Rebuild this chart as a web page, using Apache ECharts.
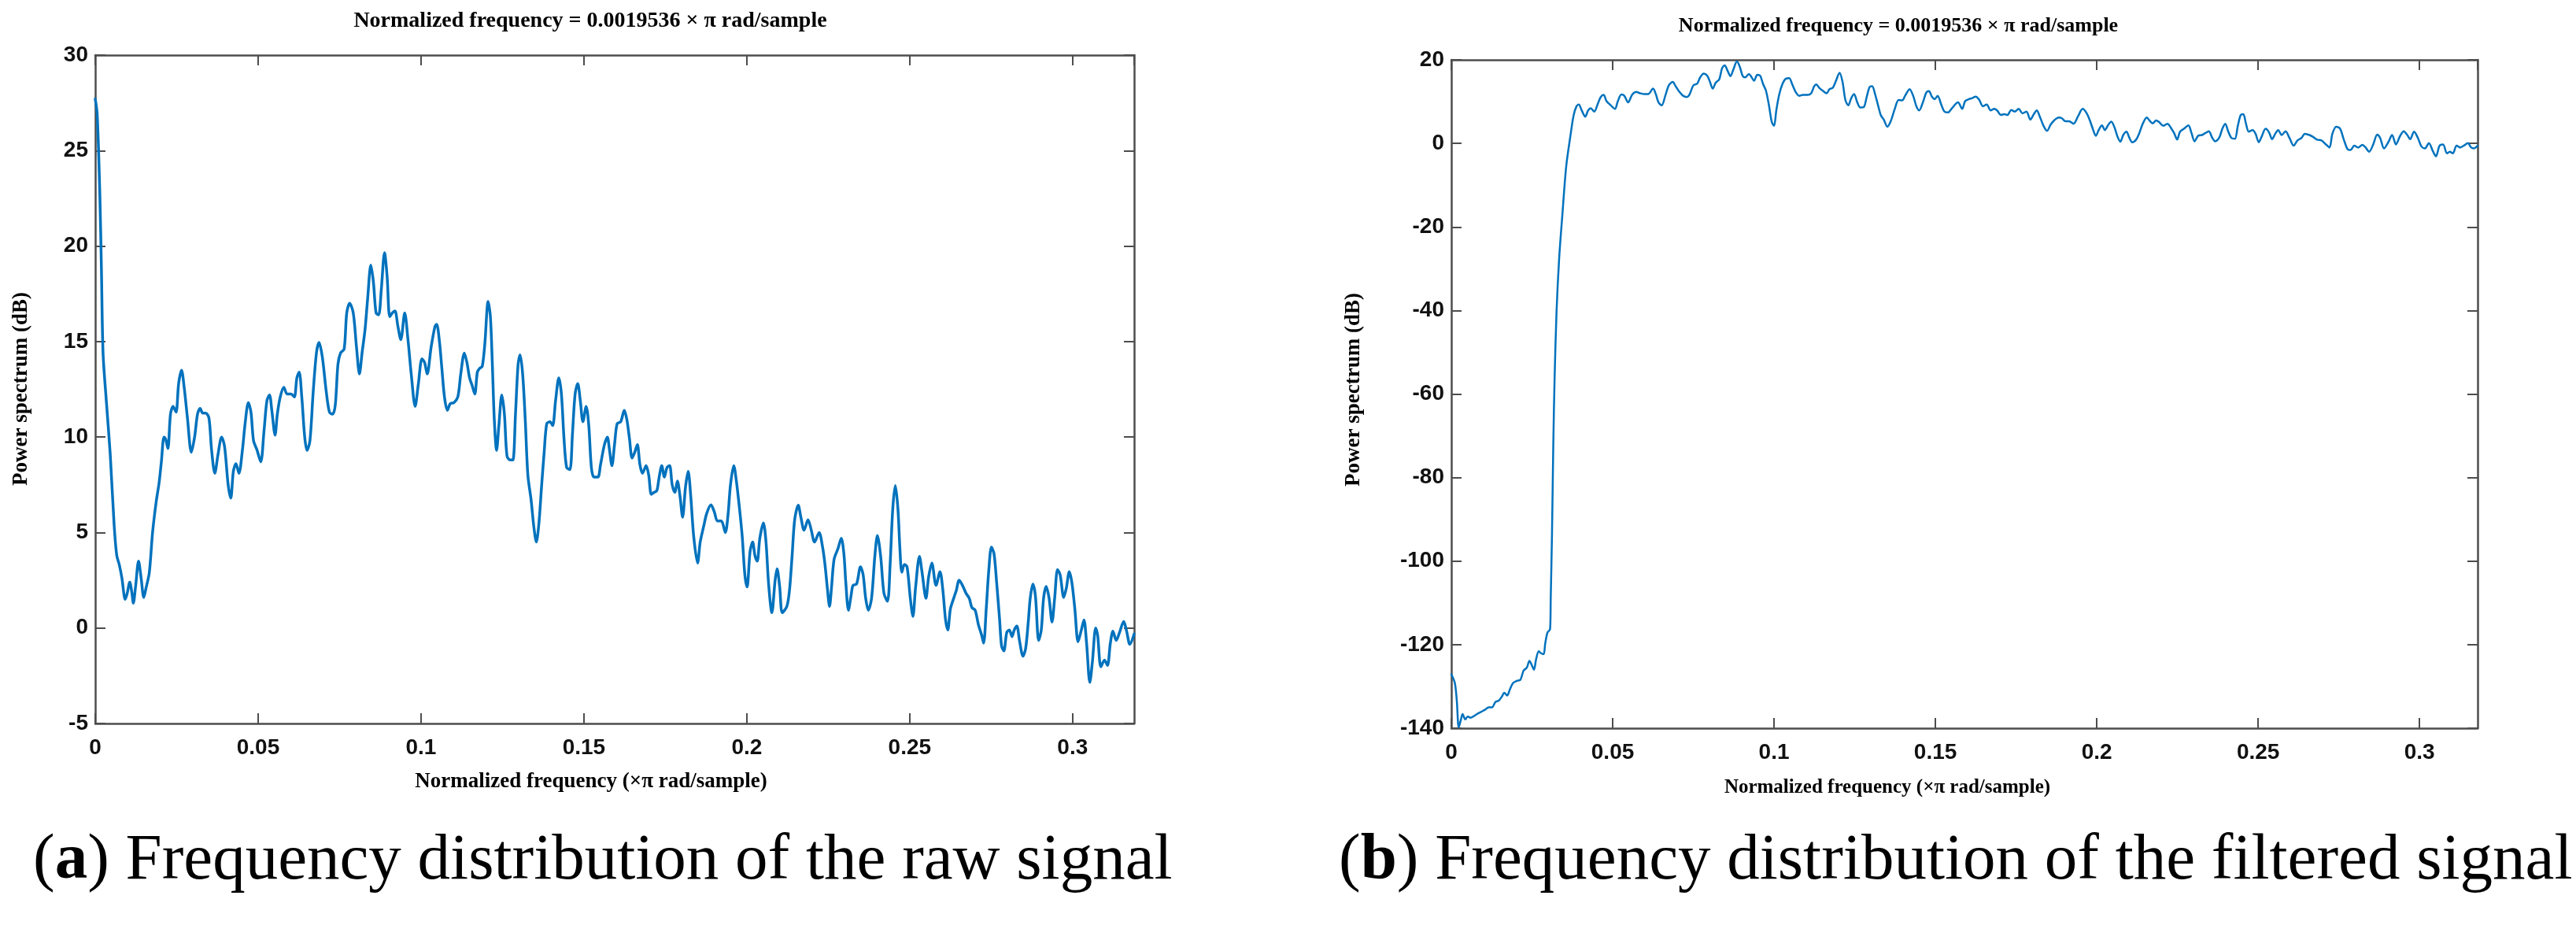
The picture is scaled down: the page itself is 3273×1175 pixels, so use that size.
<!DOCTYPE html>
<html>
<head>
<meta charset="utf-8">
<title>Frequency distribution</title>
<script src="https://cdn.jsdelivr.net/npm/echarts@6/dist/echarts.min.js"></script>
<style>
html, body { margin: 0; padding: 0; background: #fff; }
#chart { width: 3273px; height: 1175px; }
</style>
</head>
<body>
<div id="chart"></div>
<script>
// (a) raw signal: normalized frequency (x pi rad/sample) and power spectrum (dB)
const freqA = [
  0, 0.0006, 0.0014, 0.0019, 0.0024, 0.0034, 0.0046, 0.0058, 0.0066, 0.0074,
  0.0082, 0.0092, 0.0098, 0.0106, 0.0112, 0.0117, 0.0124, 0.0133, 0.0141, 0.0149,
  0.0156, 0.0166, 0.0176, 0.0187, 0.0196, 0.0203, 0.0211, 0.0216, 0.0223, 0.0231,
  0.0239, 0.0248, 0.0256, 0.0265, 0.0273, 0.0283, 0.0295, 0.0305, 0.0314, 0.0322,
  0.0330, 0.0339, 0.0349, 0.0357, 0.0367, 0.0377, 0.0388, 0.0397, 0.0408, 0.0416,
  0.0424, 0.0432, 0.0441, 0.0452, 0.0460, 0.0470, 0.0478, 0.0486, 0.0496, 0.0508,
  0.0518, 0.0527, 0.0535, 0.0542, 0.0552, 0.0559, 0.0568, 0.0579, 0.0589, 0.0601,
  0.0611, 0.0619, 0.0626, 0.0634, 0.0643, 0.0650, 0.0659, 0.0669, 0.0679, 0.0687,
  0.0697, 0.0709, 0.0719, 0.0729, 0.0737, 0.0745, 0.0753, 0.0764, 0.0772, 0.0781,
  0.0792, 0.0802, 0.0811, 0.0819, 0.0828, 0.0836, 0.0846, 0.0854, 0.0862, 0.0870,
  0.0878, 0.0888, 0.0896, 0.0904, 0.0912, 0.0920, 0.0929, 0.0938, 0.0950, 0.0960,
  0.0970, 0.0982, 0.0992, 0.1003, 0.1011, 0.1019, 0.1031, 0.1043, 0.1048, 0.1056,
  0.1064, 0.1072, 0.1081, 0.1090, 0.1101, 0.1113, 0.1122, 0.1133, 0.1141, 0.1149,
  0.1157, 0.1165, 0.1173, 0.1180, 0.1188, 0.1196, 0.1206, 0.1213, 0.1219, 0.1225,
  0.1232, 0.1239, 0.1248, 0.1256, 0.1264, 0.1274, 0.1282, 0.1290, 0.1298, 0.1304,
  0.1312, 0.1320, 0.1328, 0.1338, 0.1346, 0.1354, 0.1362, 0.1370, 0.1378, 0.1386,
  0.1396, 0.1404, 0.1413, 0.1423, 0.1431, 0.1439, 0.1447, 0.1457, 0.1465, 0.1473,
  0.1481, 0.1489, 0.1497, 0.1507, 0.1515, 0.1523, 0.1531, 0.1543, 0.1551, 0.1563,
  0.1572, 0.1578, 0.1586, 0.1594, 0.1602, 0.1613, 0.1624, 0.1632, 0.1640, 0.1648,
  0.1656, 0.1664, 0.1672, 0.1680, 0.1691, 0.1699, 0.1707, 0.1715, 0.1724, 0.1731,
  0.1739, 0.1747, 0.1755, 0.1763, 0.1771, 0.1779, 0.1787, 0.1795, 0.1803, 0.1812,
  0.1820, 0.1828, 0.1837, 0.1849, 0.1857, 0.1868, 0.1877, 0.1890, 0.1900, 0.1910,
  0.1922, 0.1934, 0.1942, 0.1950, 0.1960, 0.1968, 0.1978, 0.1986, 0.1994, 0.2001,
  0.2010, 0.2018, 0.2025, 0.2032, 0.2040, 0.2051, 0.2059, 0.2067, 0.2077, 0.2087,
  0.2093, 0.2101, 0.2109, 0.2123, 0.2131, 0.2139, 0.2147, 0.2158, 0.2166, 0.2176,
  0.2188, 0.2198, 0.2208, 0.2222, 0.2232, 0.2240, 0.2248, 0.2254, 0.2260, 0.2268,
  0.2280, 0.2290, 0.2298, 0.2304, 0.2312, 0.2320, 0.2326, 0.2337, 0.2349, 0.2357,
  0.2365, 0.2373, 0.2383, 0.2393, 0.2401, 0.2411, 0.2421, 0.2432, 0.2440, 0.2448,
  0.2456, 0.2464, 0.2470, 0.2476, 0.2484, 0.2492, 0.2502, 0.2510, 0.2518, 0.2530,
  0.2538, 0.2550, 0.2558, 0.2568, 0.2581, 0.2593, 0.2602, 0.2610, 0.2617, 0.2625,
  0.2635, 0.2643, 0.2652, 0.2663, 0.2673, 0.2683, 0.2691, 0.2701, 0.2711, 0.2721,
  0.2727, 0.2735, 0.2743, 0.2751, 0.2759, 0.2767, 0.2776, 0.2782, 0.2789, 0.2798,
  0.2806, 0.2814, 0.2821, 0.2829, 0.2837, 0.2848, 0.2856, 0.2864, 0.2870, 0.2878,
  0.2886, 0.2896, 0.2904, 0.2911, 0.2919, 0.2928, 0.2937, 0.2945, 0.2954, 0.2962,
  0.2973, 0.2981, 0.2990, 0.2998, 0.3007, 0.3017, 0.3027, 0.3035, 0.3043, 0.3053,
  0.3061, 0.3071, 0.3077, 0.3087, 0.3098, 0.3107, 0.3116, 0.3124, 0.3134, 0.3144,
  0.3157, 0.3166, 0.3176, 0.3189
];
const psdA = [
  27.7, 26.9, 22.8, 18.8, 14.4, 11.9, 9.1, 5.4, 3.8, 3.3,
  2.6, 1.5, 1.8, 2.4, 1.9, 1.3, 2.2, 3.5, 2.6, 1.6,
  2.1, 2.9, 5.0, 6.6, 7.6, 8.7, 10.0, 9.9, 9.4, 11.2,
  11.6, 11.3, 12.8, 13.5, 12.6, 11.0, 9.2, 10.0, 11.2, 11.5,
  11.25, 11.25, 11.0, 9.35, 8.1, 9.1, 10.0, 9.5, 7.5, 6.8,
  8.2, 8.6, 8.1, 9.35, 10.7, 11.8, 11.3, 9.8, 9.35, 8.7,
  10.3, 11.9, 12.2, 11.4, 10.1, 11.2, 12.1, 12.6, 12.25, 12.25,
  12.1, 13.1, 13.4, 12.1, 10.0, 9.3, 9.8, 12.35, 14.4, 14.95,
  14.2, 12.4, 11.3, 11.2, 11.7, 13.8, 14.4, 14.6, 16.5, 17.0,
  16.5, 14.7, 13.3, 14.4, 15.6, 17.2, 19.0, 18.1, 16.5, 16.4,
  17.7, 19.65, 18.4, 16.3, 16.5, 16.6, 15.8, 15.1, 16.5, 15.1,
  13.3, 11.6, 12.8, 14.1, 13.9, 13.3, 14.7, 15.8, 15.9, 15.1,
  13.6, 12.1, 11.4, 11.75, 11.8, 12.1, 13.3, 14.4, 13.9, 13.1,
  12.7, 12.25, 13.4, 13.6, 13.7, 14.9, 17.1, 16.3, 13.8, 10.9,
  9.3, 10.6, 12.2, 11.2, 9.0, 8.8, 8.8, 11.2, 13.8, 14.3,
  13.3, 10.9, 8.0, 6.7, 5.35, 4.5, 5.5, 7.4, 9.2, 10.7,
  10.8, 10.6, 11.9, 13.1, 12.25, 9.9, 8.4, 8.3, 10.2, 12.25,
  12.8, 11.9, 10.8, 11.6, 10.6, 8.4, 7.9, 7.9, 8.55, 9.6,
  10.0, 9.4, 8.5, 9.6, 10.7, 10.8, 11.4, 10.9, 9.9, 8.9,
  9.2, 9.6, 8.55, 8.1, 8.5, 8.0, 7.0, 7.1, 7.2, 7.9,
  8.5, 7.9, 8.4, 8.5, 7.5, 7.1, 7.7, 6.9, 5.8, 7.4,
  8.2, 6.9, 4.8, 3.4, 4.5, 5.35, 6.0, 6.45, 6.1, 5.6,
  5.6, 5.0, 5.85, 7.5, 8.5, 7.7, 6.2, 4.8, 2.8, 2.15,
  4.0, 4.5, 3.8, 3.5, 4.7, 5.5, 4.5, 2.3, 0.8, 2.5,
  3.1, 2.15, 0.8, 1.13, 1.96, 3.75, 5.67, 6.43, 5.8, 5.12,
  5.67, 5.12, 4.5, 5.0, 4.3, 3.33, 1.96, 1.13, 2.1, 3.6,
  4.16, 4.7, 3.9, 2.37, 0.93, 1.68, 2.23, 2.3, 3.2, 2.8,
  1.55, 0.93, 1.55, 3.75, 4.84, 3.75, 1.82, 1.4, 3.33, 6.22,
  7.46, 6.22, 4.16, 2.92, 3.33, 3.2, 1.55, 0.61, 2.1, 3.75,
  2.92, 1.55, 2.65, 3.4, 2.23, 2.95, 1.96, 0.45, -0.1, 1.0,
  1.55, 1.96, 2.5, 2.2, 1.82, 1.55, 1.07, 0.93, 0.17, -0.38,
  -0.79, 1.0, 3.06, 4.23, 3.88, 2.37, 0.45, -0.93, -1.2, -0.24,
  -0.1, -0.45, -0.1, 0.1, -0.65, -1.48, -1.07, 0.31, 1.55, 2.3,
  1.68, -0.65, -0.1, 1.55, 2.17, 1.55, 0.31, 1.55, 3.06, 2.78,
  1.6, 2.1, 2.95, 2.37, 1.0, -0.72, -0.1, 0.42, -0.79, -2.85,
  -1.75, 0.0, -0.38, -2.03, -1.68, -1.96, -0.79, -0.17, -0.65, -0.24,
  0.34, -0.17, -0.86, -0.31
];

// (b) filtered signal
const freqB = [
  0, 0.0011, 0.0017, 0.0023, 0.0029, 0.0035, 0.0043, 0.0051, 0.0060, 0.0068,
  0.0080, 0.0092, 0.0104, 0.0116, 0.0126, 0.0137, 0.0147, 0.0157, 0.0164, 0.0173,
  0.0181, 0.0191, 0.0202, 0.0214, 0.0224, 0.0234, 0.0242, 0.0251, 0.0256, 0.0263,
  0.0271, 0.0277, 0.0286, 0.0291, 0.0298, 0.0306, 0.0308, 0.0312, 0.0316, 0.0320,
  0.0326, 0.0334, 0.0344, 0.0356, 0.0370, 0.0379, 0.0388, 0.0395, 0.0404, 0.0415,
  0.0424, 0.0432, 0.0443, 0.0454, 0.0463, 0.0472, 0.0481, 0.0493, 0.0507, 0.0516,
  0.0527, 0.0536, 0.0548, 0.0560, 0.0573, 0.0585, 0.0599, 0.0610, 0.0625, 0.0634,
  0.0642, 0.0652, 0.0663, 0.0674, 0.0686, 0.0695, 0.0707, 0.0718, 0.0729, 0.0738,
  0.0750, 0.0762, 0.0771, 0.0782, 0.0793, 0.0801, 0.0810, 0.0819, 0.0830, 0.0839,
  0.0847, 0.0856, 0.0865, 0.0874, 0.0885, 0.0894, 0.0903, 0.0911, 0.0922, 0.0929,
  0.0938, 0.0948, 0.0957, 0.0966, 0.0975, 0.0984, 0.0993, 0.1000, 0.1007, 0.1016,
  0.1026, 0.1037, 0.1047, 0.1056, 0.1067, 0.1078, 0.1090, 0.1104, 0.1115, 0.1124,
  0.1131, 0.1140, 0.1151, 0.1163, 0.1172, 0.1182, 0.1191, 0.1203, 0.1212, 0.1221,
  0.1230, 0.1239, 0.1248, 0.1258, 0.1267, 0.1278, 0.1287, 0.1296, 0.1304, 0.1313,
  0.1322, 0.1331, 0.1340, 0.1351, 0.1362, 0.1374, 0.1386, 0.1397, 0.1406, 0.1420,
  0.1431, 0.1441, 0.1450, 0.1461, 0.1472, 0.1480, 0.1489, 0.1498, 0.1507, 0.1518,
  0.1528, 0.1539, 0.1551, 0.1570, 0.1583, 0.1592, 0.1604, 0.1613, 0.1625, 0.1636,
  0.1647, 0.1659, 0.1671, 0.1682, 0.1691, 0.1703, 0.1714, 0.1723, 0.1735, 0.1746,
  0.1758, 0.1770, 0.1782, 0.1794, 0.1805, 0.1814, 0.1823, 0.1835, 0.1846, 0.1857,
  0.1868, 0.1882, 0.1891, 0.1903, 0.1914, 0.1928, 0.1942, 0.1956, 0.1968, 0.1979,
  0.1988, 0.1997, 0.2006, 0.2016, 0.2025, 0.2036, 0.2045, 0.2055, 0.2064, 0.2073,
  0.2082, 0.2092, 0.2101, 0.2110, 0.2122, 0.2131, 0.2143, 0.2155, 0.2164, 0.2173,
  0.2184, 0.2193, 0.2206, 0.2219, 0.2229, 0.2240, 0.2249, 0.2258, 0.2270, 0.2284,
  0.2293, 0.2303, 0.2314, 0.2326, 0.2335, 0.2347, 0.2358, 0.2367, 0.2379, 0.2389,
  0.2398, 0.2407, 0.2417, 0.2428, 0.2437, 0.2446, 0.2454, 0.2462, 0.2471, 0.2483,
  0.2492, 0.2502, 0.2511, 0.2523, 0.2534, 0.2543, 0.2553, 0.2562, 0.2573, 0.2585,
  0.2597, 0.2610, 0.2622, 0.2634, 0.2645, 0.2659, 0.2671, 0.2682, 0.2696, 0.2710,
  0.2721, 0.2730, 0.2742, 0.2754, 0.2765, 0.2777, 0.2786, 0.2798, 0.2810, 0.2823,
  0.2832, 0.2844, 0.2856, 0.2869, 0.2878, 0.2890, 0.2904, 0.2915, 0.2927, 0.2939,
  0.2951, 0.2962, 0.2971, 0.2983, 0.2995, 0.3006, 0.3017, 0.3029, 0.3041, 0.3051,
  0.3062, 0.3073, 0.3085, 0.3094, 0.3103, 0.3115, 0.3126, 0.3137, 0.3150, 0.3159,
  0.3168, 0.3180
];
const psdB = [
  -127.1, -129.2, -133.4, -139.8, -138.2, -136.6, -137.9, -137.2, -137.5, -137.2,
  -136.6, -136.1, -135.6, -135.0, -135.0, -133.7, -133.4, -132.4, -131.5, -132.2,
  -130.8, -129.2, -128.7, -128.4, -126.2, -125.5, -123.9, -125.2, -126.0, -123.4,
  -121.6, -122.0, -122.3, -119.7, -117.1, -116.3, -109.1, -93.3, -72.1, -56.3,
  -40.4, -27.7, -17.2, -5.5, 2.3, 6.7, 8.9, 9.3, 7.9, 6.4,
  7.9, 8.4, 7.6, 9.5, 11.1, 11.6, 10.1, 9.2, 8.25, 10.1,
  11.7, 11.4, 9.8, 11.6, 12.3, 12.0, 11.8, 11.8, 13.1, 11.7,
  9.8, 9.1, 11.4, 13.9, 14.7, 13.7, 12.3, 11.4, 11.1, 11.7,
  13.9, 14.3, 15.8, 16.7, 16.2, 14.8, 13.1, 14.5, 15.3, 18.0,
  18.7, 17.4, 16.1, 17.7, 19.6, 18.3, 16.1, 15.8, 16.6, 16.0,
  15.0, 16.4, 16.2, 14.2, 12.6, 9.2, 5.1, 4.2, 7.9, 11.7,
  14.2, 15.5, 15.6, 14.2, 12.3, 11.4, 11.6, 11.6, 12.0, 13.6,
  14.1, 13.3, 12.6, 12.0, 13.0, 13.3, 14.8, 16.9, 14.8, 10.4,
  9.1, 10.8, 11.8, 9.8, 8.6, 8.7, 11.1, 13.5, 13.7, 11.8,
  9.2, 6.7, 5.7, 4.0, 5.4, 8.25, 10.4, 10.3, 11.4, 13.0,
  11.4, 8.9, 7.9, 9.8, 12.2, 12.5, 11.2, 10.6, 11.4, 9.3,
  7.6, 7.4, 8.4, 9.8, 8.25, 10.1, 10.6, 10.8, 11.2, 10.4,
  8.9, 9.3, 7.9, 8.25, 7.9, 6.8, 7.0, 6.8, 8.0, 7.6,
  8.25, 7.2, 7.6, 5.7, 7.0, 7.9, 6.5, 4.2, 3.0, 4.5,
  5.5, 6.2, 6.05, 5.3, 5.3, 4.7, 6.5, 8.25, 7.3, 5.4,
  3.4, 1.8, 3.2, 4.3, 3.2, 4.5, 5.2, 3.8, 1.65, 0.4,
  2.0, 2.8, 1.3, 0.27, 0.9, 2.3, 4.8, 6.2, 5.4, 4.8,
  5.5, 5.1, 4.2, 4.7, 3.8, 2.4, 0.9, 2.8, 3.5, 4.3,
  2.6, 0.5, 1.8, 2.0, 2.4, 2.9, 1.3, 0.5, 1.3, 3.5,
  4.7, 2.9, 1.3, 1.1, 4.2, 6.8, 7.0, 4.8, 2.8, 3.2,
  2.3, 0.27, 1.65, 3.5, 2.6, 1.0, 2.3, 3.2, 2.0, 2.9,
  1.3, -0.55, 0.7, 1.3, 2.3, 2.0, 1.5, 0.9, 0.7, -0.25,
  -1.0, 2.3, 4.0, 3.5, 1.0, -1.4, -1.6, -0.55, -1.0, -0.35,
  -0.9, -2.0, -0.35, 2.1, 1.3, -1.2, 0.4, 2.0, -0.25, 1.65,
  2.9, 2.0, 1.0, 2.8, 1.3, -0.75, -1.2, 0.08, -1.8, -3.1,
  -0.55, -0.25, -2.4, -2.0, -2.4, -0.55, -1.0, -0.55, 0.08, -0.9,
  -1.2, -0.55
];

const titleText = 'Normalized frequency = 0.0019536 \u00d7 \u03c0 rad/sample';
const xNameText = 'Normalized frequency (\u00d7\u03c0 rad/sample)';
const yNameText = 'Power spectrum (dB)';

const frameColor = '#4d4d4d';
const lineColor = '#0072BD';
const labelFont = { fontSize: 28, fontWeight: 'bold', fontFamily: 'Liberation Sans, Arial', color: '#111' };

// MATLAB-like boxed axes: bottom/left carry labels, top/right only ticks
const makeX = (gridIndex, max, pos) => ({
    type: 'value', gridIndex, position: pos, min: 0, max, interval: 0.05,
    axisLine: { show: true, onZero: false, lineStyle: { color: frameColor, width: 2.5 } },
    axisTick: { show: true, inside: true, length: 13, lineStyle: { color: frameColor, width: 2 } },
    axisLabel: pos === 'bottom' ? { show: true, margin: 17, showMaxLabel: false, ...labelFont } : { show: false },
    splitLine: { show: false }
})
const makeY = (gridIndex, min, max, step, pos) => ({
    type: 'value', gridIndex, position: pos, min, max, interval: step,
    axisLine: { show: true, onZero: false, lineStyle: { color: frameColor, width: 2.5 } },
    axisTick: { show: true, inside: true, length: 13, lineStyle: { color: frameColor, width: 2 } },
    axisLabel: pos === 'left' ? { show: true, margin: 9, ...labelFont } : { show: false },
    splitLine: { show: false }
})

const serifBold = (size) => ({ fontSize: size, fontWeight: 'bold', fontFamily: 'Liberation Serif, Times New Roman, serif', fill: '#000' })
const txt = (x, y, text, size, extra = {}) => ({
    type: 'text', x, y, rotation: extra.rotation || 0, silent: true,
    style: { text, align: extra.align || 'center', textAlign: extra.align || 'center',
        verticalAlign: 'middle', textVerticalAlign: 'middle', ...serifBold(size), ...(extra.style || {}) }
})

const captionStyle = (size) => ({
    fontWeight: 'normal',
    rich: { b: { fontSize: size, fontWeight: 'bold', fontFamily: 'Liberation Serif, Times New Roman, serif', fill: '#000' } }
})

const chart = echarts.init(document.getElementById('chart'))
chart.setOption({
    animation: false,
    backgroundColor: '#ffffff',
    grid: [
        { left: 121, top: 70, width: 1320, height: 849, show: false },
        { left: 1844, top: 76, width: 1304, height: 849, show: false }
    ],
    xAxis: [
        makeX(0, 0.3189, 'bottom'), makeX(0, 0.3189, 'top'),
        makeX(1, 0.318, 'bottom'), makeX(1, 0.318, 'top')
    ],
    yAxis: [
        makeY(0, -5, 30, 5, 'left'), makeY(0, -5, 30, 5, 'right'),
        makeY(1, -140, 20, 20, 'left'), makeY(1, -140, 20, 20, 'right')
    ],
    series: [
        {
            name: 'raw', type: 'line', xAxisIndex: 0, yAxisIndex: 0,
            data: freqA.map((f, i) => [f, psdA[i]]),
            showSymbol: false, symbol: 'none', smooth: 0.3,
            lineStyle: { color: lineColor, width: 3.5, join: 'round', cap: 'round' }
        },
        {
            name: 'filtered', type: 'line', xAxisIndex: 2, yAxisIndex: 2,
            data: freqB.map((f, i) => [f, psdB[i]]),
            showSymbol: false, symbol: 'none', smooth: 0.3,
            lineStyle: { color: lineColor, width: 2.5, join: 'round', cap: 'round' }
        }
    ],
    graphic: [
        txt(750, 27, titleText, 28),
        txt(2412, 33, titleText, 26),
        txt(751, 993, xNameText, 27),
        txt(2398, 1001, xNameText, 25),
        txt(27, 494, yNameText, 27, { rotation: Math.PI / 2 }),
        txt(1720, 495, yNameText, 27, { rotation: Math.PI / 2 }),
        txt(42, 1094, '({b|a}) Frequency distribution of the raw signal', 83,
            { align: 'left', style: { ...captionStyle(83), fontSize: 83 } }),
        txt(1701, 1094, '({b|b}) Frequency distribution of the filtered signal', 83,
            { align: 'left', style: { ...captionStyle(83), fontSize: 83 } })
    ]
})
</script>
</body>
</html>
